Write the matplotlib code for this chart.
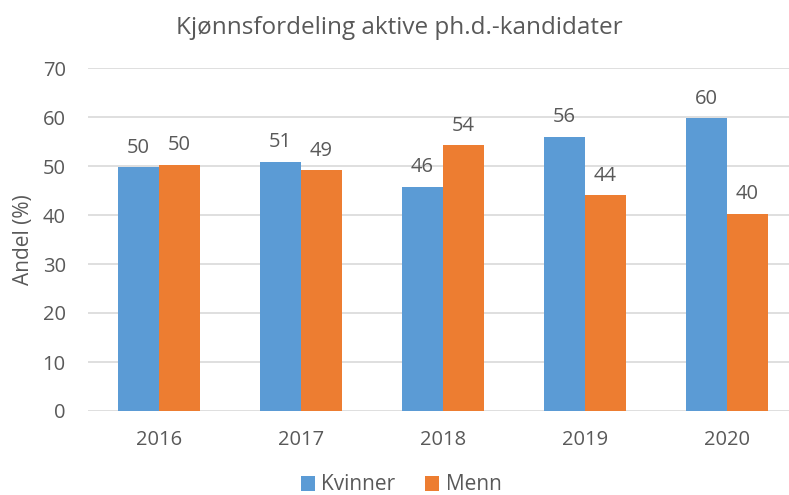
import matplotlib
matplotlib.use("Agg")
import matplotlib.pyplot as plt
import numpy as np

years = ["2016", "2017", "2018", "2019", "2020"]
kvinner = [49.7, 50.9, 45.8, 56.0, 59.7]
menn = [50.3, 49.1, 54.2, 44.0, 40.3]
kvinner_labels = ["50", "51", "46", "56", "60"]
menn_labels = ["50", "49", "54", "44", "40"]

plt.rcParams['font.family'] = ['Open Sans', 'DejaVu Sans']
txt = "#595959"

fig = plt.figure(figsize=(7.89, 4.95), dpi=100)
ax = fig.add_axes([88/789, 1-411/495, 710/789, (411-68)/495])

x = np.arange(len(years))
w = 0.29
b1 = ax.bar(x - w/2, kvinner, w, color="#5B9BD5", label="Kvinner", zorder=3)
b2 = ax.bar(x + w/2, menn, w, color="#ED7D31", label="Menn", zorder=3)

for rect, lab in zip(b1, kvinner_labels):
    ax.text(rect.get_x() + rect.get_width()/2, rect.get_height() + 1.9, lab,
            ha="center", va="bottom", fontsize=14.5, color=txt)
for rect, lab in zip(b2, menn_labels):
    ax.text(rect.get_x() + rect.get_width()/2, rect.get_height() + 1.9, lab,
            ha="center", va="bottom", fontsize=14.5, color=txt)

ax.set_xlim(-0.5, 4.5)
ax.set_ylim(0, 70)
ax.set_yticks(range(0, 71, 10))
ax.set_xticks(x)
ax.set_xticklabels(years)
ax.tick_params(axis="both", length=0, labelsize=14.5, colors=txt)
ax.tick_params(axis="y", pad=16)
ax.tick_params(axis="x", pad=14)
ax.grid(axis="y", color="#D9D9D9", linewidth=1.2, zorder=0)
for s in ax.spines.values():
    s.set_visible(False)

ax.set_ylabel("Andel (%)", fontsize=15, color=txt, labelpad=6)
fig.text(399/789, 1-28/495, "Kjønnsfordeling aktive ph.d.-kandidater",
         ha="center", va="center", fontsize=17.5, color=txt)

fig.legend(handles=[b1, b2], labels=["Kvinner", "Menn"], loc="center",
           bbox_to_anchor=(401/789, 1-485/495), ncol=2, frameon=False,
           fontsize=15, labelcolor=txt, handlelength=0.7, handleheight=0.7,
           columnspacing=1.4, handletextpad=0.3)

fig.savefig("out.png", dpi=100)
